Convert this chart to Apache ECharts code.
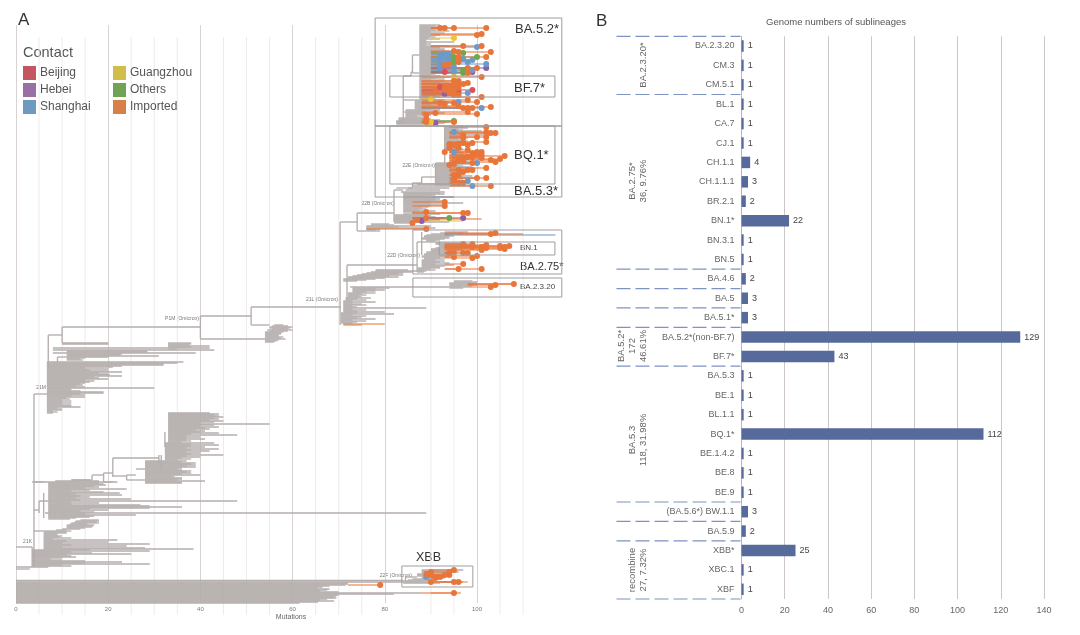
<!DOCTYPE html>
<html><head><meta charset="utf-8">
<style>html,body{margin:0;padding:0;background:#fff}#c{width:1080px;height:635px}</style>
<script src="https://cdn.jsdelivr.net/npm/echarts@6/dist/echarts.min.js"></script>
</head><body><div id="c"></div>
<script>
// ---------- Panel B data ----------
const sublineages = ['BA.2.3.20','CM.3','CM.5.1','BL.1','CA.7','CJ.1','CH.1.1','CH.1.1.1','BR.2.1','BN.1*','BN.3.1','BN.5','BA.4.6','BA.5','BA.5.1*','BA.5.2*(non-BF.7)','BF.7*','BA.5.3','BE.1','BL.1.1','BQ.1*','BE.1.4.2','BE.8','BE.9','(BA.5.6*) BW.1.1','BA.5.9','XBB*','XBC.1','XBF'];
const genomeCounts = [1,1,1,1,1,1,4,3,2,22,1,1,2,3,3,129,43,1,1,1,112,1,1,1,3,2,25,1,1];
const groupBoundaries = [0,3,12,13,14,15,17,24,25,26,29];

// ---------- Panel A data ----------
const minorMutationTicks = [5,10,15,25,30,35,45,50,55,65,70,75,90,95,105,110];
const contacts = ['Beijing','Hebei','Shanghai','Guangzhou','Others','Imported'];

// tree connectors: [mutation0,row0,mutation1,row1]
const connectors = [
[0,547,3.5,547],[3.5,547,3.5,567],[3.9,394,3.9,567],[3.9,394,6.7,394],[7,335,7,370],[7,335,10,335],[10,327,10,343],[10,327,40,327],[10,343,20,343],[10,344,20,344],
[40,316,40,339],[40,316,51,316],[51,307,51,325],[51,307,70.5,307],[51,325,55,325],[40,339,54,339],
[9,357,9,362],[9,357,11,357],[3.9,482,6,482],[6,493,6,518],[5,501,5,513],[3.9,510,5,510],[3.9,531,6,531],[3.9,554,3.9,567],
[32.3,432,32.3,447],[31.5,455,31.5,470],[21,458,21,477],[21,458,31,458],[31,455,31,463],[19,473,21,473],[19,482,21,482],[19,473,19,482],[21,476,24,476],[24,475,24,480],[24,480,28,480],[24,475,26,475],[26,469,28,469],[16.5,475,19,475],[16.5,475,16.5,480],[12,480,16.5,480],
[70.3,222,70.3,325],[70.3,222,74,222],[74,213,74,231],[74,213,82,213],[74,231,76,231],[82,190,82,222],[82,190,84,190],
[71.8,265,71.8,300],[71.8,265,87,265],[87,242,87,272],[87,242,92,242],[88,232,88,255],[72.5,287,94,287],
[82.5,188,86,188],[86,183,86,188],[86,183,88,183],[88,177,88,183],[88,177,91,177],[91,163,91,185],[91,165,93,165],[93,127,93,165],
[82.5,122,84,122],[84,76,84,122],[84,76,85.7,76],[85.7,72,85.7,76],[85.7,72,86,72],[86,55,86,73],[86,55,87.5,55],[86,73,87.5,73],[84,100,86.5,100],[84,112,84.5,112],
[0,580.5,84,580.5],[84.5,577,84.5,581],[84.5,577,87,577]
];

// tips: [row,end] from a clade's start, or [row,end,start] when they differ
const tipsBasal = [[582,84],[583,72],[584,72],[585,71.5],[586,68],[587,66.5],[588,65.5],[589,68],[590,67.5],[591,66],[592,70],[593,88],[594,82],[595,70],[596,69.5],[597,69],[598,69.5],[599,67.5],[600,66],[601,69],[602,65.5],[603,61.5]];
const tipsUpperP1 = [[362,36.3],[363,35],[364,32],[365,32],[366,23],[367,21],[368,15],[369,20],[370,16],[371,20],[372,23],[373,18],[374,20],[375,20.4],[376,23],[377,17],[378,18],[379,20],[380,15],[381,17],[382,16],[383,15],[384,14],[385,14.5],[386,13],[387,15],[388,30],[389,12],[390,12],[391,14],[392,19],[393,19],[394,14],[395,15],[396,12],[397,15],[398,11],[399,11.7],[400,10],[401,12],[402,10],[403,12],[404,10],[405,12],[406,12],[407,14],[408,9],[409,10],[410,10],[411,8],[412,9],[413,8]];
const tipsGroupA = [[343,38,33],[344,38,33],[345,37.5,33],[346,42,33],[347,38,33],[348,42,8],[349,35,33],[350,43,8],[351,28.5,11],[352,28.5,11],[353,39,8],[354,23,11],[355,22.5,11],[356,31,11],[357,20,11],[358,15,11],[359,14,11],[360,14.5,11]];
const tipsGroupB = [[413,42],[414,44],[415,43],[416,44],[417,45],[418,43],[419,44],[420,42],[421,45],[422,43],[423,40],[424,55],[425,43],[426,40],[427,44],[428,41],[429,42],[430,39],[431,41],[432,40],[433,44],[434,38],[435,48],[436,37],[437,40],[438,37],[439,41],[440,37],[441,38],[442,36]];
const tipsGroupC = [[443,43],[444,38],[445,44],[446,38],[447,41],[448,37],[449,44],[450,38],[451,42],[452,37],[453,40],[454,38],[455,45],[456,37],[457,40],[458,36],[459,38],[460,35]];
const tipsGroupD = [[461,37],[462,36],[463,39],[464,38],[465,39],[466,37],[467,39],[468,36],[469,35],[470,36],[471,38],[472,37],[473,38],[474,36],[475,40],[476,34],[477,34.5],[478,36],[479,36],[480,35],[481,41],[482,36],[483,36]];
const tipsGroupE = [[480,16,12],[481,18,8.5],[482,22,3.5],[483,18],[484,19],[485,19.5],[486,17],[487,18],[488,15],[489,24],[490,16],[491,12],[492,19],[493,22.5],[494,13],[495,23],[496,14],[497,16],[498,13],[499,25],[500,14],[501,48,5],[502,12],[503,18],[504,12],[505,27],[506,29],[507,36],[508,29],[509,16],[510,20],[511,14],[512,17],[513,89,6.3],[514,15],[515,26],[516,17],[517,16],[518,13],[519,11.7]];
const tipsGroupF = [[520,18,14],[521,18,13],[522,17.5,12.7],[523,18,12],[524,15.5,11.7],[525,17,11],[526,16.7,11],[527,16.5,11],[528,15,11],[529,14,10],[530,11,8.7],[531,12],[532,11],[533,11],[534,9],[535,9],[536,10],[537,9.5],[538,12],[539,8],[540,22],[541,11],[542,20],[543,10],[544,29],[545,12],[546,24],[547,10],[548,28],[549,38.5],[550,16,3.5],[551,29,3.5],[552,12,3.5],[553,16.5,3.5],[554,25,3.5],[555,11,3.5],[556,12,3.5],[557,13,3.5],[558,10,3.5],[559,7.5,3.5],[560,10,3.5],[561,15,3.5],[562,23,3.5],[563,15,3.5],[564,29,3.5],[565,10,3.5],[566,12,3.5],[567,7,0],[569,3,0]];
const tipsGroupG = [[325,58,56],[326,59,55.5],[327,60,55],[328,59.5,55],[329,59,55.5],[330,60,54.5],[331,59,55],[332,58,54],[333,57.5,54],[334,57.5,54],[335,57,54],[336,57,54],[337,58,54],[338,57.5,54],[339,58.5,54],[340,57,54],[341,56.5,54],[342,56,54]];
const tipsBA2 = [[270,85,78],[271,88,78],[272,86,77],[273,84,76],[274,83,75],[275,84,74],[276,81,73],[277,83,72],[278,80,72],[279,78,71],[280,76,71],[281,74,71],[288,81,73],[289,78,73],[290,80,73],[291,78,73],[292,76,73],[293,78,72],[294,75,72],[295,76,72],[296,74.5,72],[297,75,72],[298,77,71.5],[299,74,71.5],[300,76,71.5],[301,73,71],[302,78,71],[303,73,71],[304,75,71],[305,76,71],[306,73,71],[307,74,71],[308,89,71],[309,73,71],[310,76,71],[311,74,71],[312,80,71],[313,74,70.5],[314,82,70.5],[315,73,70.5],[316,76,70.5],[317,75,70.5],[318,74,70.5],[319,78,70.5],[320,73,70.5],[321,76,70.5],[322,74,70.5],[323,73,70.5],[325,75,71]];
const tipsBA275 = [[232,98,93],[233,97,92],[234,96,90],[235,94,89],[236,95,88.5],[237,94,88.5],[238,94,88],[239,93,88],[240,92,89],[241,91,89],[243,97,91],[244,98,91],[245,99,92],[246,100,92],[247,99,92],[248,98,91],[249,97,90],[250,96,90],[251,97,90],[252,95,89],[253,95,89],[254,94,88.5],[255,94,88.5],[256,93,88],[257,94,88],[258,92,88.5],[259,93,88.5],[260,91,88],[261,93,88],[262,92,88],[263,94,88],[264,91,88],[265,95,88],[266,93,88],[267,92,88],[268,92,87],[269,90,87],[270,91,87],[271,89,87],[272,88.5,87]];
const tipsBA2320 = [[281,99,95],[282,100,95],[283,100,94],[284,99,94],[285,100,94],[286,99,94],[287,98,94],[288,97,94]];
const tips22B = [[184,94,87],[186,94,86],[188,94,85],[190,92,84.5],[192,93,83.5],[193,92,84],[194,93,84],[195,91,84],[196,90,84],[197,95,84],[198,91,84],[199,92,84],[200,91,84],[201,93,84],[202,90,84],[203,97,84],[204,90,84],[205,93,84],[206,90,84],[207,89.5,84],[208,88,84],[209,89,84],[210,87.5,84],[211,91,84],[212,86.5,84],[214,92,84],[215,89,82],[216,90,82],[217,91,82],[218,93,82],[219,92,82],[220,92,82],[221,90,82],[222,94,82],[223,86,82],[224,81,77],[225,82,77],[226,90,76],[227,83,76],[228,91,76],[229,79,76],[230,78,76],[231,79,76]];
const tipsBQ1 = [[127,97,93],[128,98,93],[129,96,93],[130,97,93],[131,101,93],[132,96,93],[133,95,93],[134,97,93],[135,103,93],[136,97,93],[137,96,93],[138,98,93],[139,96,93],[140,97,93],[141,98,93],[142,97,93],[143,97,93],[144,98,93],[145,96,93],[146,96,93],[147,95,93],[148,96,93],[149,97,93],[150,96,93],[151,96,94],[152,97,94],[153,97,94.5],[154,98,94.5],[155,97,94.5],[156,99,94.5],[157,98,94.5],[158,97,94.5],[159,98,94.5],[160,97,94.5],[161,97,94.5],[162,98,94.5],[163,95,91],[164,99,91],[165,96,91],[166,97,91],[167,99,91],[168,98,91],[169,96,91],[170,97,91],[171,98,91],[172,97,91],[173,96,91],[174,97,91],[175,96,91],[176,99,91],[177,97,91],[178,100,91],[179,97,91],[180,96,91],[181,98,91],[182,96,91],[183,97,91],[184,96,91],[185,95,91]];
const tipsBA52 = [[25,92],[26,91],[27,93],[28,93],[29,92],[30,91],[31,94],[32,90],[33,93],[34,90],[35,92],[36,90],[37,91],[38,89.5],[39,92],[40,89],[41,89],[42,95],[43,89],[44,90],[45,89],[46,94],[47,90],[48,92],[49,93],[50,93],[51,94],[52,93],[53,94],[54,92],[55,95],[56,93],[57,94],[58,92],[59,95],[60,93],[61,94],[62,92],[63,95],[64,93],[65,94],[66,92],[67,94],[68,93],[69,92],[70,95],[71,93],[72,92],[73,94],[74,91],[75,90]];
const tipsBF7 = [[76,92],[77,94],[78,91],[79,93],[80,90],[81,93],[82,92],[83,94],[84,91],[85,93],[86,92],[87,94],[88,93],[89,92],[90,94],[91,93],[92,92],[93,94],[94,92],[95,93],[96,91],[97,92],[98,90],[99,91],[100,93,86.5],[101,92,86.5],[102,94,86.5],[103,91,86.5],[104,93,86.5],[105,90,86.5],[106,92,86.5],[107,94,86.5],[108,91,86.5],[109,90,86.5],[110,92,84.5],[111,89,84.5],[112,91,84.5],[113,93,84.5],[114,88,84.5],[115,90,84.5],[116,87,84.5],[117,89,84.5],[118,88,83],[119,90,83],[120,92,83],[121,95,82.5],[122,94,82.5],[123,93,82.5],[124,90,82.5]];
const tipsXBB = [[570,97,88],[571,95,88],[572,96,88],[573,93,88],[574,93,87],[575,94,87],[576,93,87],[577,92,88],[578,93,88],[579,92,86],[580,90,85],[581,91,84],[582,97,84],[583,92,84]];

// coloured genomes: [row,mutations,contact index]
const dotsBA52 = [[28,92,5],[28,93,5],[28,95,5],[28,102,5],[35,100,5],[34,101,5],[38,95,3],[46,97,5],[47,100,2],[46,101,5],[52,103,5],[51,95,5],[52,96,5],[53,97,4],[55,92,2],[54,93,2],[54,94,2],[57,95,4],[57,96,5],[57,100,4],[57,102,5],[60,92,2],[58,93,2],[60,94,2],[62,95,4],[62,96,5],[59,97,2],[60,99,2],[62,98,2],[65,92,2],[65,93,5],[64,94,5],[68,92,2],[67,95,2],[70,97,4],[68,98,5],[70,99,2],[68,100,5],[64,102,2],[68,102,1],[72,93,0],[72,95,2],[73,97,4],[73,98,5],[72,99,1]];
const dotsBF7 = [[77,95,3],[77,101,5],[81,95,5],[81,96,5],[87,92,0],[87,93,5],[86,94,5],[84,95,5],[84,96,5],[84,97,5],[83,98,5],[91,91,5],[90,93,5],[89,94,5],[87,95,5],[88,96,5],[92,96,0],[90,99,0],[93,98,2],[94,93,1],[93,94,5],[92,95,5],[95,95,5],[95,96,5],[97,101,5],[99,90,3],[103,92,5],[104,93,5],[102,96,2],[103,95,5],[100,98,5],[106,96,5],[108,97,5],[108,98,5],[112,98,5],[102,100,5],[108,99,5],[108,101,2],[107,103,5],[114,100,5],[113,91,5],[115,89,5],[119,89,5],[122,90,3],[123,91,1],[122,89,5],[122,95,5],[121,95,4]];
const dotsBQ1 = [[127,102,5],[132,95,2],[135,97,5],[132,102,5],[133,103,5],[133,104,5],[138,97,5],[137,100,5],[137,102,5],[142,102,5],[144,94,5],[145,95,5],[144,96,5],[143,97,5],[145,98,5],[143,99,5],[152,93,5],[148,94,5],[152,95,2],[148,96,5],[150,98,5],[153,99,5],[152,100,5],[152,101,5],[155,101,5],[158,97,5],[157,98,5],[157,99,5],[155,100,5],[158,101,5],[161,97,5],[161,96,5],[156,106,5],[159,105,5],[160,103,5],[162,104,5],[163,99,5],[163,100,2],[165,94,5],[164,95,5],[168,102,5],[170,96,5],[172,97,5],[170,98,5],[170,99,5],[175,95,5],[175,96,5],[180,95,5],[183,96,5],[183,95,5],[183,97,5],[181,98,2],[186,99,2],[178,100,5],[178,102,5],[186,103,5]];
const dots22B = [[202,93,5],[206,93,5],[212,89,5],[213,97,5],[213,98,5],[218,94,4],[218,97,1],[218,89,5],[221,88,1],[220,87,5],[223,86,5],[229,89,5]];
const dotsBA275 = [[234,103,5],[233,104,5],[244,97,5],[244,99,5],[247,99,5],[245,102,5],[248,102,5],[247,101,5],[250,101,5],[246,105,5],[248,105,5],[247,106,5],[249,106,5],[246,107,5],[253,98,5],[253,97,5],[253,95,5],[253,94,5],[257,95,5],[258,99,5],[256,100,5],[264,97,5],[269,96,5],[269,101,5]];
const dotsBA2320 = [[284,108,5],[285,104,5],[287,103,5]];
const dotsXBB = [[572,90,5],[574,89,5],[577,89,2],[575,90,5],[577,91,5],[578,91,5],[577,92,5],[575,93,5],[572,94,5],[570,95,5],[575,94,5],[582,90,5],[582,95,5],[582,96,5],[585,79,5],[593,95,5]];
// extra coloured branches: [row,from,to,contact index]
const colouredBranches = [[585,72,79,5],[593,88,96.5,5],[219,90,101,5],[221,86,97,3],[582,92,98,5],[324,71,80,5],[235,93,117,2],[197,90,95,2],[229,76,89,5],[234,96,110,5],[284,98,108,5]];
// boxes: [mutation0,row0,mutation1,row1]
const cladeBoxes = [[77.9,18,118.4,197],[77.9,126,118.4,126],[81.1,76,116.9,97],[81.1,126,116.9,184],[86.1,230,118.4,274],[91.8,242,116.9,255],[86.1,278,118.4,297],[83.7,566,99.1,587]];

const tipGroups = [[0,tipsBasal],[6.7,tipsUpperP1],[11,tipsGroupA],[33,tipsGroupB],[32.3,tipsGroupC],[28,tipsGroupD],[7,tipsGroupE],[6,tipsGroupF],[54,tipsGroupG],[72,tipsBA2],[88,tipsBA275],[94,tipsBA2320],[84,tips22B],[93,tipsBQ1],[87.5,tipsBA52],[87.5,tipsBF7],[87,tipsXBB]];
const dotGroups = [[90,dotsBA52],[88,dotsBF7],[94,dotsBQ1],[86,dots22B],[93,dotsBA275],[98,dotsBA2320],[90,dotsXBB]];

const dotColors = ['#DC4F5E','#8E5FA8','#6C9BC9','#F2C230','#6FA84A','#E8753A'];
const swatchColors = ['#C5565F','#9A6FA3','#7099BF','#CFBF4A','#70A354','#D9804A'];

const greySegs = connectors.slice();
tipGroups.forEach(([start,rows]) => rows.forEach(r => greySegs.push([r.length>2?r[2]:start, r[0], r[1], r[0]])));
const tails = [];
dotGroups.forEach(([from,dots]) => dots.forEach(d => { if(d[1]>from) tails.push([from,d[0],d[1],d[0],d[2]]); }));
colouredBranches.forEach(b => tails.push([b[1],b[0],b[2],b[0],b[3]]));
const allDots = [].concat(...dotGroups.map(g => g[1]));

const segRender = (color,width) => (p,api) => {
  const a = api.coord([api.value(0),api.value(1)]), b = api.coord([api.value(2),api.value(3)]);
  return {type:'line',shape:{x1:a[0],y1:a[1],x2:b[0],y2:b[1]},style:{stroke:color,lineWidth:width}};
};
const tree = {xAxisIndex:0,yAxisIndex:0};
const txt = (text,x,y,size,color,extra) => ({type:'text',x,y,silent:true,style:Object.assign({text,fontSize:size,fill:color,fontFamily:'Liberation Sans',textAlign:'left',textVerticalAlign:'middle'},extra||{})});
const rot = (text,x,y) => Object.assign(txt(text,x,y,9.5,'#666',{textAlign:'center'}),{rotation:Math.PI/2});

const series = [
 Object.assign({type:'custom',name:'minor gridlines',silent:true,z:1,clip:false,data:minorMutationTicks.map(m=>[m]),
   renderItem:(p,api)=>{const t=api.coord([api.value(0),37]),b=api.coord([api.value(0),603]);return {type:'line',shape:{x1:t[0],y1:t[1],x2:b[0],y2:b[1]+12},style:{stroke:'#EFEBEB',lineWidth:1}};},encode:{x:0}},tree),
 Object.assign({type:'custom',name:'tree',silent:true,z:2,clip:false,data:greySegs,renderItem:segRender('#B4AEAC',1.35),encode:{x:[0,2],y:[1,3]}},tree),
 Object.assign({type:'custom',name:'coloured branches',silent:true,z:3,clip:false,data:tails,encode:{x:[0,2],y:[1,3]},
   renderItem:(p,api)=>{const a=api.coord([api.value(0),api.value(1)]),b=api.coord([api.value(2),api.value(3)]);return {type:'line',shape:{x1:a[0],y1:a[1],x2:b[0],y2:b[1]},style:{stroke:dotColors[api.value(4)],opacity:0.7,lineWidth:1.3}};}},tree),
 Object.assign({type:'custom',name:'clade boxes',silent:true,z:6,clip:false,data:cladeBoxes,encode:{x:[0,2],y:[1,3]},
   renderItem:(p,api)=>{const a=api.coord([api.value(0),api.value(1)]),b=api.coord([api.value(2),api.value(3)]);return {type:'rect',shape:{x:a[0],y:a[1],width:b[0]-a[0],height:b[1]-a[1]},style:{fill:'none',stroke:'#A09C9C',lineWidth:1}};}},tree)
];
contacts.forEach((name,i)=>series.push(Object.assign({type:'scatter',name,clip:false,z:5,silent:true,symbolSize:6,itemStyle:{color:dotColors[i],opacity:1},
  data:allDots.filter(d=>d[2]===i).map(d=>[d[1],d[0]])},tree)));
series.push({type:'bar',name:'Genome numbers',xAxisIndex:1,yAxisIndex:1,barWidth:11.5,z:3,silent:true,itemStyle:{color:'#566A9B'},data:genomeCounts,
  label:{show:true,position:'right',distance:4,fontSize:9,color:'#444',fontFamily:'Liberation Sans'}});
series.push({type:'custom',name:'group separators',xAxisIndex:1,yAxisIndex:2,silent:true,z:4,clip:false,data:groupBoundaries.map(b=>[0,b]),encode:{y:1},
  renderItem:(p,api)=>{const c=api.coord([0,api.value(1)]);return {type:'line',shape:{x1:c[0]-125,y1:c[1],x2:c[0]-1,y2:c[1]},style:{stroke:'#7E93C4',lineWidth:1.2,lineDash:[14,5]}};}});

const legendBase = {top:66,orient:'vertical',padding:0,itemWidth:13,itemHeight:14,itemGap:3,selectedMode:false,textStyle:{fontSize:12,color:'#555',padding:[0,0,0,-1]}};
const option = {
 animation:false,backgroundColor:'#fff',textStyle:{fontFamily:'Liberation Sans'},
 grid:[{left:16,top:25,width:461,height:578,containLabel:false},{left:741.5,top:36.3,width:302.5,height:562.7,containLabel:false}],
 xAxis:[
  {gridIndex:0,type:'value',min:0,max:100,interval:20,axisLine:{show:false},axisTick:{show:false},
   axisLabel:{fontSize:6,color:'#777',margin:3},splitLine:{show:true,lineStyle:{color:'#D8D2D2',width:1}}},
  {gridIndex:1,type:'value',min:0,max:140,interval:20,axisLine:{show:false},axisTick:{show:false},
   axisLabel:{fontSize:9,color:'#666',margin:7},splitLine:{show:true,lineStyle:{color:'#CDC6C6',width:1}}}
 ],
 yAxis:[
  {gridIndex:0,type:'value',min:25,max:603,inverse:true,show:false},
  {gridIndex:1,type:'category',data:sublineages,inverse:true,axisTick:{show:false},
   axisLine:{show:true,lineStyle:{color:'#A7B4D6',width:1,type:[8,2]}},axisLabel:{fontSize:9,color:'#666',margin:7}},
  {gridIndex:1,type:'value',min:0,max:29,inverse:true,show:false}
 ],
 legend:[
  Object.assign({},legendBase,{left:23,data:contacts.slice(0,3).map((n,i)=>({name:n,icon:'rect',itemStyle:{color:swatchColors[i]}}))}),
  Object.assign({},legendBase,{left:113,data:contacts.slice(3).map((n,i)=>({name:n,icon:'rect',itemStyle:{color:swatchColors[i+3]}}))})
 ],
 series,
 graphic:[
  txt('A',18,20,17,'#333'),txt('B',596,21,17,'#333'),txt('Contact',23,53,14.5,'#555'),
  txt('Genome numbers of sublineages',836,22,9.5,'#555',{textAlign:'center'}),
  txt('Mutations',291,617,7,'#666',{textAlign:'center'}),
  txt('BA.5.2*',515,29,13,'#333'),txt('BF.7*',514,88,13,'#333'),txt('BQ.1*',514,155,13,'#333'),txt('BA.5.3*',514,191,13,'#333'),
  txt('BN.1',520,248,8,'#444'),txt('BA.2.75*',520,267,11,'#333'),txt('BA.2.3.20',520,287,8,'#444'),txt('XBB',416,558,12.5,'#333'),
  txt('22E (Omicron)',435,166,5,'#777',{textAlign:'right'}),txt('22B (Omicron)',394,204,5,'#777',{textAlign:'right'}),txt('22D (Omicron)',420,256,5,'#777',{textAlign:'right'}),
  txt('21L (Omicron)',338,300,5,'#777',{textAlign:'right'}),txt('P1M (Omicron)',199,319,5,'#777',{textAlign:'right'}),txt('22F (Omicron)',412,576,5,'#777',{textAlign:'right'}),
  txt('21M',46,388,5,'#777',{textAlign:'right'}),txt('21K',32,542,5,'#777',{textAlign:'right'}),
  rot('BA.2.3.20*',643,65),rot('BA.2.75*',632,181),rot('36, 9.76%',643,181),
  rot('BA.5.2*',621,346),rot('172',632,346),rot('46.61%',643,346),
  rot('BA.5.3',632,440),rot('118, 31.98%',643,440),rot('recombine',632,570),rot('27, 7.32%',643,570)
 ]
};
echarts.init(document.getElementById('c'),null,{renderer:'canvas'}).setOption(option);
</script></body></html>
